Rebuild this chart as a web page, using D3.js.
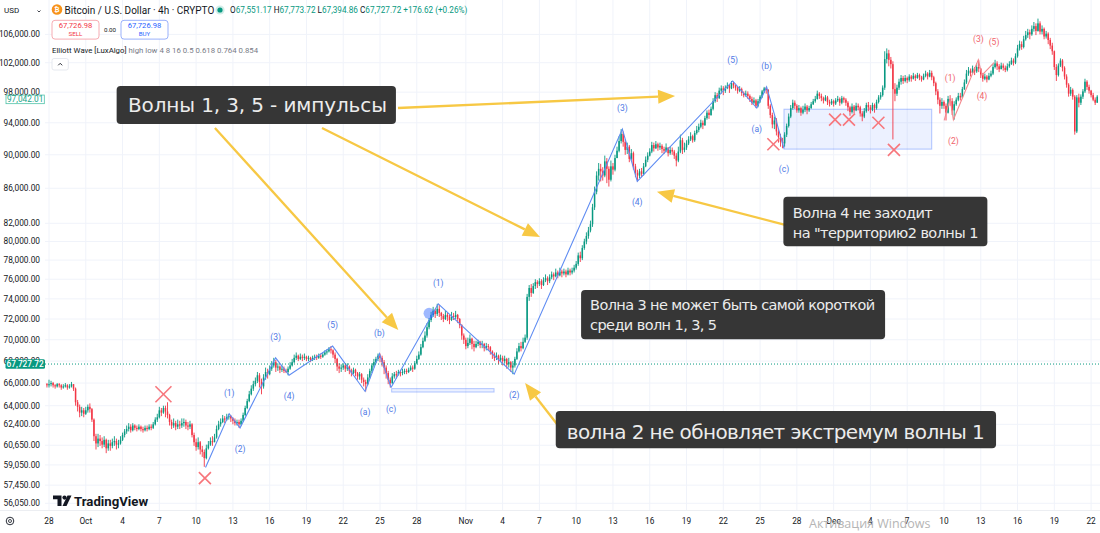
<!DOCTYPE html>
<html><head><meta charset="utf-8">
<script src="https://cdn.jsdelivr.net/npm/d3@7"></script>
<style>body{margin:0;background:#fff}svg{display:block}</style>
</head><body>
<svg id="c" width="1100" height="533"></svg>
<script>
// ---------- DATA (prices in thousands USD, 4h candles, first candle = index -1) ----------
const firstIndex = -1;
const firstOpen = 65.9;
const closes = [65.8,
65.9,66.0,65.8,65.7,65.9,65.8, 65.6,65.7,65.8,65.6,65.7,65.9, 65.5,64.3,63.9,63.4,63.6,63.3,
63.6,63.9,63.7,62.8,61.4,60.8, 61.2,61.0,60.7,61.1,60.4,60.8, 60.6,60.9,61.0,60.7,60.8,61.1,
61.5,61.8,62.0,62.2,61.9,62.3, 62.1,62.0,62.2,62.0,61.9,62.1, 62.0,62.2,62.1,62.4,62.8,63.0,
63.6,63.4,63.8,63.5,63.2,62.6, 62.3,62.5,62.2,62.4,62.3,62.5, 62.6,62.3,62.2,62.4,61.5,60.9,
60.5,60.9,60.3,60.1,59.6,60.4, 60.7,61.0,60.9,61.3,62.0,62.4, 62.6,62.9,62.8,63.0,63.1,62.9,
62.7,62.5,62.6,62.4,62.7,63.2, 63.8,64.4,65.0,65.5,65.9,66.2, 66.7,66.1,65.7,66.5,67.0,66.8,
67.3,67.6,67.9,67.4,67.5,67.2, 67.3,67.1,67.0,67.3,67.6,67.9, 68.3,68.5,68.2,68.4,68.3,68.4,
68.2,68.3,68.1,68.3,68.4,68.3, 68.5,68.4,68.6,68.8,68.9,69.1, 69.0,68.6,68.2,67.5,67.3,67.4,
67.6,67.3,67.5,67.1,66.9,67.2, 66.9,66.6,66.8,66.3,66.1,65.9, 66.5,67.1,67.6,67.9,68.2,68.5,
68.3,67.9,67.4,66.9,66.3,66.0, 66.6,66.8,66.7,67.0,66.9,67.0, 67.1,67.0,67.2,67.4,67.3,67.8,
68.2,68.6,69.3,69.9,70.4,71.2, 71.9,72.4,72.8,72.5,73.0,72.6, 72.3,72.0,72.4,72.2,71.9,72.3,
72.2,72.4,72.0,71.4,70.4,70.0, 69.4,69.7,70.1,69.6,69.3,69.6, 69.8,69.5,69.6,69.2,69.4,69.3,
68.9,68.6,68.3,68.5,68.1,68.3, 68.0,68.2,67.7,67.9,67.4,67.6, 68.2,68.9,69.4,69.2,69.8,70.2,
74.2,75.1,74.6,75.3,75.7,75.5, 75.8,75.4,75.9,76.1,75.8,76.2, 76.5,76.3,76.7,76.4,76.8,76.6,
76.8,76.5,76.9,76.7,76.9,77.2, 77.6,78.5,78.2,79.3,80.0,80.6, 81.2,81.9,83.8,85.6,87.5,88.3,
88.0,87.5,89.2,88.3,87.0,88.6, 88.2,89.6,90.5,91.7,92.6,91.6, 90.6,91.0,89.5,90.2,88.6,87.8,
87.5,88.0,87.7,88.6,89.4,89.9, 90.4,91.2,90.8,91.3,90.9,91.1, 90.7,90.5,90.9,90.2,90.6,90.4,
89.9,89.3,90.4,91.8,90.6,90.9, 91.4,91.9,92.3,91.8,92.7,93.1, 93.5,94.0,93.7,94.6,95.3,95.0,
95.8,96.8,97.6,97.2,98.2,98.5, 98.2,98.6,98.9,98.5,99.2,98.9, 98.6,98.2,98.4,97.9,97.6,97.8,
97.5,97.1,96.6,96.9,96.2,96.8, 97.4,98.1,98.5,98.3,96.2,95.0, 93.8,94.3,92.9,92.2,91.6,91.4,
92.5,93.6,94.8,95.9,96.6,96.2, 95.6,95.9,95.3,95.7,96.1,95.6, 95.9,96.4,96.8,97.1,97.8,97.5,
97.2,96.9,97.3,96.7,96.5,96.8, 96.5,96.9,97.1,96.6,97.2,97.0, 96.6,96.0,95.4,96.1,95.6,96.2,
96.0,95.2,94.8,95.5,96.3,96.0, 95.7,96.3,95.9,96.7,97.3,97.6, 98.6,102.5,103.3,102.4,101.8,98.4,
97.8,98.6,99.4,99.9,99.5,99.9, 99.6,100.1,99.8,100.2,99.9,100.3, 100.0,99.7,100.2,100.5,100.1,100.6,
100.0,99.2,98.1,97.0,96.2,96.7, 96.2,95.3,97.1,96.8,95.6,96.4, 97.0,97.5,97.3,98.4,99.3,100.5,
100.9,100.6,101.2,100.8,101.4,101.2, 100.4,99.8,100.1,99.7,100.2,100.5, 101.4,101.9,101.5,101.1,101.6,101.3,
101.0,101.5,101.8,102.3,102.0,102.9, 104.0,104.6,104.2,105.3,105.9,106.3, 106.0,106.8,107.2,106.5,107.6,106.4,
106.8,105.7,106.1,105.2,104.4,103.6, 101.4,100.3,101.6,102.3,101.3,100.1, 99.0,97.8,98.3,97.4,92.9,97.3,
96.6,97.4,98.1,99.4,98.7,98.2, 97.6,97.0,96.6,97.4];
const highs = [66.0,
66.3,66.2,66.1,65.9,66.0,66.0, 65.9,65.9,66.0,65.9,65.9,66.1, 65.9,65.6,64.5,64.1,63.9,63.8,
63.9,64.1,64.2,63.8,62.9,61.6, 61.6,61.5,61.3,61.4,61.2,61.1, 61.1,61.2,61.4,61.2,61.1,61.4,
61.7,62.0,62.3,62.5,62.4,62.5, 62.4,62.3,62.4,62.3,62.2,62.3, 62.3,62.4,62.4,62.6,63.0,63.3,
63.9,63.8,64.0,64.0,64.3,63.3, 62.8,62.9,62.7,62.8,62.7,62.9, 62.9,62.8,62.6,62.7,62.5,61.7,
61.2,61.3,61.0,60.6,60.3,60.7, 61.0,61.3,61.4,61.6,62.3,62.7, 62.9,63.2,63.1,63.3,63.3,63.2,
63.0,62.9,62.8,62.8,62.9,63.4, 64.0,64.6,65.3,65.8,66.2,66.5, 67.0,66.9,66.4,66.8,67.4,67.3,
67.6,68.0,68.3,68.1,67.8,67.6, 67.6,67.5,67.3,67.5,67.9,68.2, 68.6,68.8,68.6,68.7,68.6,68.7,
68.5,68.5,68.4,68.5,68.6,68.6, 68.7,68.7,68.8,69.0,69.1,69.3, 69.4,69.1,68.8,68.3,67.8,67.7,
67.8,67.7,67.8,67.6,67.3,67.4, 67.3,67.0,67.0,66.9,66.5,66.3, 66.8,67.3,67.8,68.2,68.4,68.7,
68.7,68.5,68.1,67.6,67.1,66.5, 66.9,67.0,67.1,67.2,67.2,67.3, 67.3,67.3,67.4,67.6,67.6,68.0,
68.5,68.9,69.6,70.2,70.8,71.6, 72.1,72.7,73.2,73.0,73.5,73.4, 72.7,72.5,72.8,72.6,72.4,72.7,
72.6,72.8,72.5,72.1,71.5,70.6, 70.2,70.2,70.5,70.2,69.9,69.9, 70.0,69.9,69.9,69.7,69.7,69.6,
69.4,69.0,68.8,68.8,68.6,68.6, 68.5,68.5,68.3,68.3,68.0,68.0, 68.4,69.2,69.7,69.8,70.2,70.5,
74.5,75.4,75.5,75.6,76.0,75.9, 76.1,76.0,76.2,76.5,76.3,76.5, 76.8,76.7,77.1,76.9,77.2,77.0,
77.1,77.0,77.2,77.1,77.2,77.5, 77.9,78.8,78.9,79.6,80.3,81.0, 81.6,82.3,84.2,86.2,88.0,89.0,
88.9,88.5,89.9,89.6,88.6,89.3, 89.0,90.0,91.0,92.3,93.2,92.9, 91.9,91.5,91.2,90.7,90.4,88.9,
88.2,88.3,88.4,89.0,89.8,90.3, 90.8,91.6,91.5,91.7,91.5,91.5, 91.3,91.0,91.4,90.9,91.0,90.9,
90.6,90.2,91.0,92.5,92.1,91.5, 91.8,92.3,92.8,92.5,93.0,93.6, 93.9,94.4,94.3,94.9,95.6,95.7,
96.1,97.2,98.0,97.9,98.6,98.9, 98.8,98.9,99.3,99.0,99.5,99.4, 99.0,98.7,98.8,98.6,98.1,98.2,
98.1,97.7,97.4,97.3,97.1,97.1, 97.6,98.3,98.7,98.7,98.4,96.4, 95.3,94.8,94.6,93.2,92.6,92.1,
92.8,93.9,95.2,96.3,97.0,96.9, 96.4,96.3,96.1,96.2,96.5,96.3, 96.2,96.7,97.1,97.5,98.2,98.0,
97.8,97.4,97.6,97.5,97.0,97.1, 97.0,97.2,97.5,97.3,97.5,97.4, 97.2,96.8,96.2,96.5,96.3,96.6,
96.5,96.2,95.5,95.9,96.6,96.7, 96.3,96.6,96.5,97.0,97.6,98.0, 98.9,103.6,104.0,103.8,102.8,102.2,
99.2,99.0,99.8,100.3,100.2,100.3, 100.1,100.4,100.3,100.6,100.4,100.6, 100.5,100.2,100.5,100.9,100.7,101.0,
100.9,100.2,99.4,98.4,97.3,97.2, 96.9,96.5,97.5,97.6,97.2,96.8, 97.3,97.9,97.9,98.7,99.7,101.0,
101.4,101.2,101.6,101.4,101.9,102.4, 101.1,100.6,100.5,100.3,100.6,100.9, 101.8,102.4,102.2,101.8,102.0,101.9,
101.6,101.9,102.2,102.7,102.6,103.3, 104.5,105.1,105.0,105.8,106.5,106.8, 106.7,107.3,107.8,107.6,108.3,107.9,
107.3,107.0,106.5,106.3,105.5,104.8, 103.7,101.8,101.9,102.6,102.5,101.5, 100.4,99.2,98.7,98.5,97.6,97.6,
97.8,97.7,98.4,99.8,99.6,99.0, 98.3,97.9,97.3,97.6];
const lows = [65.6,
65.6,65.7,65.6,65.5,65.6,65.6, 65.4,65.5,65.6,65.4,65.5,65.6, 65.3,64.0,63.5,63.0,63.1,63.0,
63.2,63.4,63.4,62.6,61.0,60.3, 60.5,60.6,60.4,60.5,60.0,60.2, 60.2,60.4,60.6,60.3,60.4,60.7,
61.0,61.3,61.6,61.8,61.7,61.8, 61.9,61.8,61.9,61.8,61.7,61.8, 61.8,61.9,61.9,62.0,62.3,62.6,
62.9,63.1,63.3,63.0,62.9,62.3, 62.0,62.1,61.9,62.0,62.0,62.1, 62.2,62.0,61.9,62.0,61.3,60.6,
60.2,60.3,59.9,59.7,58.9,59.5, 60.3,60.6,60.6,60.9,61.2,61.9, 62.2,62.5,62.5,62.7,62.8,62.6,
62.4,62.3,62.3,62.1,62.3,62.6, 63.1,63.7,64.3,64.9,65.3,65.7, 66.0,65.6,65.0,65.5,66.3,66.4,
66.7,67.1,67.4,67.0,67.1,66.9, 67.0,66.9,66.9,66.7,67.2,67.5, 67.8,68.1,68.0,68.1,68.0,68.1,
68.0,68.0,67.9,68.0,68.1,68.1, 68.2,68.2,68.3,68.5,68.6,68.8, 68.7,68.3,67.8,67.1,66.9,67.0,
67.2,67.0,67.1,66.8,66.6,66.8, 66.6,66.3,66.3,66.0,65.7,65.25, 65.8,66.4,66.9,67.4,67.8,68.0,
67.9,67.5,66.8,66.4,65.9,65.6, 65.9,66.4,66.4,66.7,66.6,66.7, 66.8,66.8,66.9,67.1,67.0,67.2,
67.7,68.1,68.5,69.2,69.8,70.2, 71.0,71.7,72.2,72.1,72.3,72.2, 71.9,71.7,71.9,71.8,71.5,71.8,
71.9,72.0,71.6,71.1,70.0,69.6, 69.1,69.2,69.5,69.1,68.9,69.2, 69.4,69.2,69.2,68.9,69.0,69.0,
68.6,68.2,68.0,68.1,67.7,67.9, 67.6,67.8,67.3,67.4,67.0,66.8, 67.4,68.1,68.8,68.9,69.1,69.7,
70.0,73.8,74.2,74.5,75.0,75.1, 75.3,75.0,75.3,75.7,75.4,75.6, 76.0,75.9,76.2,76.1,76.3,76.2,
76.4,76.2,76.4,76.4,76.5,76.7, 77.0,77.4,77.8,78.0,79.1,79.7, 80.3,81.0,81.6,83.5,85.3,86.9,
86.8,86.9,87.3,86.6,86.2,86.8, 87.6,88.0,89.6,90.3,91.4,91.0, 90.0,90.1,89.1,89.3,88.2,87.3,
86.8,87.2,87.3,87.5,88.5,89.1, 89.8,90.2,90.4,90.7,90.5,90.6, 90.2,90.1,90.3,89.8,90.0,90.0,
89.5,88.6,89.1,90.2,90.1,90.3, 90.6,91.2,91.7,91.5,91.6,92.5, 92.8,93.3,93.2,93.6,94.4,94.5,
94.9,95.6,96.6,96.7,97.1,97.8, 97.6,97.9,98.4,97.9,98.4,98.5, 98.2,97.8,98.0,97.5,97.3,97.4,
97.1,96.7,96.3,96.4,95.9,96.0, 96.6,97.2,97.9,97.8,95.8,94.6, 93.3,93.2,92.4,91.5,91.0,90.8,
91.0,92.2,93.4,94.6,95.7,95.8, 95.3,95.3,94.9,95.1,95.4,95.1, 95.4,95.8,96.3,96.6,97.0,97.1,
96.8,96.5,96.8,96.3,96.1,96.3, 96.1,96.3,96.7,96.2,96.4,96.6, 96.2,95.5,94.9,95.2,95.2,95.5,
95.6,94.8,94.2,94.6,95.3,95.5, 95.2,95.5,95.3,95.7,96.5,97.0, 97.4,98.3,101.9,101.5,101.2,91.9,
96.8,97.5,98.3,99.0,99.1,99.3, 99.2,99.4,99.4,99.7,99.5,99.8, 99.6,99.4,99.6,100.0,99.7,100.0,
99.6,98.8,97.6,96.4,95.2,95.8, 95.8,94.3,95.2,96.2,95.0,94.4, 96.2,96.8,96.9,97.2,98.3,99.1,
100.2,100.1,100.5,100.3,100.6,100.7, 99.9,99.4,99.6,99.3,99.6,100.0, 100.3,101.2,101.0,100.7,101.1,100.9,
100.7,100.8,101.3,101.7,101.6,101.8, 102.7,103.7,103.8,104.0,105.1,105.5, 105.3,105.8,106.4,105.9,106.4,106.0,
106.0,105.3,105.4,104.6,103.9,103.1, 101.0,99.5,100.1,101.4,100.8,99.7, 98.6,97.4,97.5,97.0,92.5,92.7,
96.0,96.3,97.1,97.9,98.3,97.8, 97.3,96.8,96.3,96.6];

// time axis: day offsets from Sep 28 and their labels
const tickDays = [0,3,6,9,12,15,18,21,24,27,30,34,37,40,43,46,49,52,55,58,61,64,67,70,73,76,79,82,85];
const tickLabels = ["28","Oct","4","7","10","13","16","19","22","25","28","Nov","4","7","10","13","16","19","22","25","28","Dec","4","7","10","13","16","19","22"];
// price axis ticks
const priceTicks = [106000,102000,98000,94000,90000,86000,82000,80000,78000,76000,74000,72000,70000,68000,66000,64000,62400,60650,59050,57450,56050];
const lastPrice = 67727.72;
const markPrice = 97042.01;

// Elliott wave pivots: [bar index, price(k), label]
const waveBlue1 = [[76.6,58.85,""],[88.2,63.3,"(1)"],[93.5,62.1,"(2)"],[110.9,68.3,"(3)"],[117.5,66.7,"(4)"],[138.8,69.4,"(5)"],[154.7,65.25,"(a)"],[161.7,68.7,"(b)"],[167.4,65.6,"(c)"]];
const waveBlue2 = [[167.4,65.6,""],[190.5,73.5,"(1)"],[227.7,66.8,"(2)"],[280.6,93.2,"(3)"],[287.9,86.8,"(4)"],[334.6,99.5,"(5)"],[346.4,95.9,"(a)"],[351.2,98.7,"(b)"],[359.7,90.8,"(c)"]];
const waveRed = [[438.1,94.3,""],[441.0,97.1,"(1)"],[442.6,94.4,"(2)"],[454.8,102.4,"(3)"],[456.6,100.3,"(4)"],[462.5,102.0,"(5)"]];
// invalidation crosses [bar index, price(k), big?]
const crosses = [[56,65.0,1],[76.3,58.0,0],[354.5,91.3,0],[384.7,94.4,0],[391.5,94.4,0],[405.9,94.0,0],[413.5,90.6,0]];
// zones [from bar, to bar, low price, high price]
const zones = [[167.7,217.8,65.2,65.5],[359.7,432.0,90.7,95.75]];
const dots = [[186,72.56]];
// arrows [from bar, from price, to bar, to price]
const arrows = [[81.2,93.34,170.95,70.93],[133.6,93.34,240.3,80.49],[170.8,95.91,306.4,97.49],[360.7,81.81,297.5,85.6],[250.1,62.09,233.0,66.0]];
// callouts: anchor bar, anchor price(top-left), lines
const notes = [
  {bar:33.1, price:98.82, lines:["Волны 1, 3, 5 - импульсы"]},
  {bar:248.0, price:63.54, lines:["волна 2 не обновляет экстремум волны 1"]},
  {bar:260.4, price:74.9, lines:["Волна 3 не может быть самой короткой","среди волн 1, 3, 5"]},
  {bar:359.4, price:85.0, lines:["Волна 4 не заходит","на \"территорию2 волны 1"]}
];
// callout styling (px)
const noteStyle = [
  {w:279.3,h:38,fs:20,pad:11.3,ly:[19],tl:[259]},
  {w:440.3,h:37.3,fs:20,pad:11,ly:[20.7],tl:[418]},
  {w:304,h:49.3,fs:14.5,pad:9,ly:[15,35],tl:[285,127]},
  {w:204,h:49.3,fs:14.5,pad:9.4,ly:[16.6,36.6],tl:[140,185.6]}
];

// ---------- SCALES ----------
const svg = d3.select("#c");
const x = d3.scaleLinear().domain([0,510]).range([49,1091.1]);
const y = d3.scaleLog().domain([56.05,102]).range([503.3,62.7]);
const UP="#089981", DN="#f23645", UI="Roboto, 'Liberation Sans', sans-serif";

svg.append("rect").attr("width",1100).attr("height",533).attr("fill","#fff");
svg.append("defs").append("clipPath").attr("id","pane").append("rect").attr("x",45).attr("y",0).attr("width",1055).attr("height",510);

// grid
const grid = svg.append("g");
grid.selectAll("line.v").data(tickDays).join("line")
  .attr("x1",d=>x(d*6)).attr("x2",d=>x(d*6)).attr("y1",0).attr("y2",510)
  .attr("stroke","#f0f3fa").attr("stroke-width",1);
grid.selectAll("line.h").data(priceTicks).join("line")
  .attr("x1",45).attr("x2",1100).attr("y1",d=>y(d/1000)).attr("y2",d=>y(d/1000))
  .attr("stroke","#f0f3fa").attr("stroke-width",1);

const pane = svg.append("g").attr("clip-path","url(#pane)");

// zones
pane.selectAll("rect.zone").data(zones).join("rect")
  .attr("x",d=>x(d[0])).attr("width",d=>x(d[1])-x(d[0]))
  .attr("y",d=>y(d[3])).attr("height",d=>y(d[2])-y(d[3]))
  .attr("fill","rgba(41,98,255,0.09)").attr("stroke","rgba(41,98,255,0.35)").attr("stroke-width",1);

// candles
const candles = closes.map((c,k)=>{
  const o = k ? closes[k-1] : firstOpen;
  return {i:k+firstIndex, o, c, h:Math.max(highs[k],o,c), l:Math.min(lows[k],o,c)};
});
const cg = pane.append("g");
cg.selectAll("line").data(candles).join("line")
  .attr("x1",d=>x(d.i)).attr("x2",d=>x(d.i)).attr("y1",d=>y(d.h)).attr("y2",d=>y(d.l))
  .attr("stroke",d=>d.c>=d.o?UP:DN).attr("stroke-width",0.9);
cg.selectAll("rect").data(candles).join("rect")
  .attr("x",d=>x(d.i)-0.75).attr("width",1.5)
  .attr("y",d=>y(Math.max(d.o,d.c))).attr("height",d=>Math.max(0.8,Math.abs(y(d.o)-y(d.c))))
  .attr("fill",d=>d.c>=d.o?UP:DN);

// waves
function drawWave(data, color, labColor){
  pane.append("path").datum(data)
    .attr("d", d3.line().x(d=>x(d[0])).y(d=>y(d[1])))
    .attr("fill","none").attr("stroke",color).attr("stroke-width",1.1);
  pane.selectAll(null).data(data.filter((d,k)=>d[2])).join("text")
    .attr("x",d=>x(d[0]))
    .attr("y",d=>{const k=data.indexOf(d); const prev=data[k-1][1]; return y(d[1]) + (d[1]>prev?-21:21);})
    .attr("text-anchor","middle").attr("dominant-baseline","central")
    .attr("font-family",UI).attr("font-size",8.5).attr("fill",labColor).text(d=>d[2]);
}
drawWave(waveBlue1,"#5f8cf2","#4f79e6");
drawWave(waveBlue2,"#5f8cf2","#4f79e6");
drawWave(waveRed,"#f38a8f","#f0636b");

// crosses
const xg = pane.append("g").attr("stroke","#f7767c").attr("stroke-width",1.6);
crosses.forEach(d=>{
  const cx=x(d[0]), cy=y(d[1]), s=d[2]?8:6;
  xg.append("line").attr("x1",cx-s).attr("y1",cy-s).attr("x2",cx+s).attr("y2",cy+s);
  xg.append("line").attr("x1",cx-s).attr("y1",cy+s).attr("x2",cx+s).attr("y2",cy-s);
});
pane.selectAll("circle.dot").data(dots).join("circle")
  .attr("cx",d=>x(d[0])).attr("cy",d=>y(d[1])).attr("r",5.5).attr("fill","rgba(41,98,255,0.45)");

// last price dotted line
pane.append("line").attr("x1",45).attr("x2",1100).attr("y1",y(lastPrice/1000)).attr("y2",y(lastPrice/1000))
  .attr("stroke",UP).attr("stroke-width",1).attr("stroke-dasharray","1,2");

// arrows
const ag = svg.append("g");
arrows.forEach(a=>{
  const x1=x(a[0]),y1=y(a[1]),x2=x(a[2]),y2=y(a[3]);
  const ang=Math.atan2(y2-y1,x2-x1), L=17, Wd=7;
  const bx=x2-L*Math.cos(ang), by=y2-L*Math.sin(ang);
  ag.append("line").attr("x1",x1).attr("y1",y1).attr("x2",bx).attr("y2",by)
    .attr("stroke","#f7c844").attr("stroke-width",2.3);
  ag.append("path").attr("d",`M${x2},${y2}L${bx+Wd*Math.sin(ang)},${by-Wd*Math.cos(ang)}L${bx-Wd*Math.sin(ang)},${by+Wd*Math.cos(ang)}Z`)
    .attr("fill","#f7c844");
});

// callouts
notes.forEach((n,k)=>{
  const s=noteStyle[k], bx=x(n.bar), by=y(n.price);
  const g=svg.append("g");
  g.append("rect").attr("x",bx).attr("y",by).attr("width",s.w).attr("height",s.h).attr("rx",4)
    .attr("fill","#2e2e2e").attr("fill-opacity",0.96);
  n.lines.forEach((t,j)=>{
    g.append("text").attr("x",bx+s.pad).attr("y",by+s.ly[j]).attr("dominant-baseline","central")
      .attr("font-family","'DejaVu Sans', sans-serif").attr("font-size",s.fs).attr("fill","#ececec")
      .attr("textLength",s.tl[j]).attr("lengthAdjust","spacing").text(t);
  });
});

// price axis
const pa = svg.append("g").attr("font-family",UI).attr("font-size",8.3).attr("fill","#131722");
pa.selectAll("text").data(priceTicks).join("text")
  .attr("x",40).attr("y",d=>y(d/1000)).attr("text-anchor","end").attr("dominant-baseline","central")
  .text(d=>d3.format(",.2f")(d));
// badges
const fmt=d3.format(",.2f");
const ly=y(lastPrice/1000);
svg.append("rect").attr("x",5.5).attr("y",ly-4.8).attr("width",39.5).attr("height",9.6).attr("rx",1.5).attr("fill",UP);
svg.append("text").attr("x",25.2).attr("y",ly).attr("text-anchor","middle").attr("dominant-baseline","central")
  .attr("font-family",UI).attr("font-size",8.3).attr("font-weight",500).attr("fill","#fff").text(fmt(lastPrice));
const my=y(markPrice/1000);
svg.append("rect").attr("x",6).attr("y",my-4.3).attr("width",38.3).attr("height",8.6).attr("fill","#fff").attr("stroke","#4fc3a8").attr("stroke-width",0.8);
svg.append("text").attr("x",25.2).attr("y",my).attr("text-anchor","middle").attr("dominant-baseline","central")
  .attr("font-family",UI).attr("font-size",8.3).attr("fill","#22a58a").text(fmt(markPrice));

// time axis
svg.append("line").attr("x1",0).attr("x2",1100).attr("y1",510.5).attr("y2",510.5).attr("stroke","#eceef2");
const ta = svg.append("g").attr("font-family",UI).attr("font-size",8.3).attr("fill","#131722");
ta.selectAll("text").data(tickDays).join("text")
  .attr("x",d=>x(d*6)).attr("y",521).attr("text-anchor","middle").attr("dominant-baseline","central")
  .text((d,k)=>tickLabels[k]);
svg.append("circle").attr("cx",10).attr("cy",521).attr("r",3.8).attr("fill","none").attr("stroke","#131722").attr("stroke-width",0.9);
svg.append("circle").attr("cx",10).attr("cy",521).attr("r",1.5).attr("fill","none").attr("stroke","#131722").attr("stroke-width",0.8);

// TradingView logo
const lg = svg.append("g").attr("fill","#131722");
lg.append("path").attr("d","M53,495.5h8.5v10.5h-4v-6.8h-4.5z");
lg.append("circle").attr("cx",64.5).attr("cy",497.6).attr("r",2.1);
lg.append("path").attr("d","M67.5,495.5h4l-5,10.5h-4z");
lg.append("text").attr("x",74).attr("y",506).attr("font-family",UI).attr("font-weight",700).attr("font-size",13.2).text("TradingView");

// header
const hd = svg.append("g").attr("font-family",UI);
hd.append("text").attr("x",4).attr("y",10).attr("dominant-baseline","central").attr("font-size",8).attr("fill","#131722").text("USD");
hd.append("path").attr("d","M37.5,10.5l1.5,1.5l1.5,-1.5").attr("fill","none").attr("stroke","#131722").attr("stroke-width",0.8);
hd.append("circle").attr("cx",57).attr("cy",9.5).attr("r",5.3).attr("fill","#f7931a");
hd.append("text").attr("x",57).attr("y",9.8).attr("text-anchor","middle").attr("dominant-baseline","central").attr("font-size",6.5).attr("font-weight",700).attr("fill","#fff").text("₿");
hd.append("text").attr("x",64.5).attr("y",10).attr("dominant-baseline","central").attr("font-size",10).attr("fill","#131722").text("Bitcoin / U.S. Dollar · 4h · CRYPTO");
hd.append("circle").attr("cx",220).attr("cy",10).attr("r",4.6).attr("fill","rgba(8,153,129,0.18)");
hd.append("circle").attr("cx",220).attr("cy",10).attr("r",2.6).attr("fill",UP);
const ohlc = hd.append("text").attr("x",230).attr("y",10).attr("dominant-baseline","central").attr("font-size",8.2);
[["O","67,551.17"],[" H","67,773.72"],[" L","67,394.86"],[" C","67,727.72"],[" ","+176.62 (+0.26%)"]].forEach(p=>{
  ohlc.append("tspan").attr("fill","#131722").text(p[0]);
  ohlc.append("tspan").attr("fill",UP).text(p[1]);
});
// sell / buy
hd.append("rect").attr("x",52).attr("y",20.3).attr("width",47).attr("height",18.8).attr("rx",3).attr("fill","#fff").attr("stroke","#f5a3aa").attr("stroke-width",0.9);
hd.append("text").attr("x",75.5).attr("y",25.8).attr("text-anchor","middle").attr("dominant-baseline","central").attr("font-size",7.6).attr("fill",DN).text("67,726.98");
hd.append("text").attr("x",75.5).attr("y",33.5).attr("text-anchor","middle").attr("dominant-baseline","central").attr("font-size",6.2).attr("fill",DN).text("SELL");
hd.append("text").attr("x",110).attr("y",29.5).attr("text-anchor","middle").attr("dominant-baseline","central").attr("font-size",6.2).attr("fill","#131722").text("0.00");
hd.append("rect").attr("x",121).attr("y",20.3).attr("width",47).attr("height",18.8).attr("rx",3).attr("fill","#fff").attr("stroke","#8fa8fb").attr("stroke-width",0.9);
hd.append("text").attr("x",144.5).attr("y",25.8).attr("text-anchor","middle").attr("dominant-baseline","central").attr("font-size",7.6).attr("fill","#2962ff").text("67,726.98");
hd.append("text").attr("x",144.5).attr("y",33.5).attr("text-anchor","middle").attr("dominant-baseline","central").attr("font-size",6.2).attr("fill","#2962ff").text("BUY");
const ind = hd.append("text").attr("x",52).attr("y",50).attr("dominant-baseline","central").attr("font-size",7.8);
ind.append("tspan").attr("fill","#131722").text("Elliott Wave [LuxAlgo]");
ind.append("tspan").attr("fill","#787b86").text(" high low 4 8 16 0.5 0.618 0.764 0.854");
hd.append("rect").attr("x",52).attr("y",58.5).attr("width",16.3).attr("height",11.5).attr("rx",2).attr("fill","#fff").attr("stroke","#e0e3eb").attr("stroke-width",0.8);
hd.append("path").attr("d","M58.2,65.3l2,-2l2,2").attr("fill","none").attr("stroke","#131722").attr("stroke-width",0.9);

// windows watermark
svg.append("text").attr("x",809).attr("y",528).attr("font-family","'Open Sans', sans-serif").attr("font-size",12.5).attr("fill","#b5b5b5").text("Активация Windows");
</script>
</body></html>
